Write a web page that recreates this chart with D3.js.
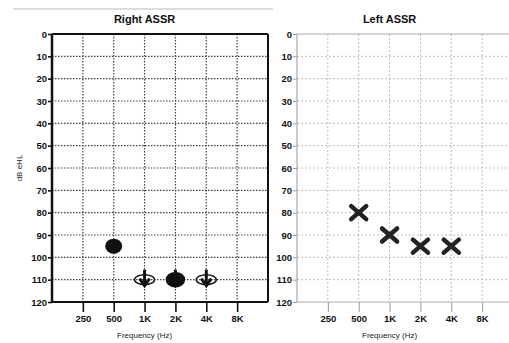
<!DOCTYPE html>
<html>
<head>
<meta charset="utf-8">
<script src="https://cdn.jsdelivr.net/npm/d3@7"></script>
<style>
  body { margin: 0; background: #fff; }
  svg { display: block; font-family: "Liberation Sans", Arial, sans-serif; }
</style>
</head>
<body>
<svg id="chart" width="509" height="343"></svg>
<script>
var freqs = [250, 500, 1000, 2000, 4000, 8000];
var freqLabels = ["250", "500", "1K", "2K", "4K", "8K"];
var dbTicks = [0, 10, 20, 30, 40, 50, 60, 70, 80, 90, 100, 110, 120];

// right ear: circle symbols, "nr" = no response (arrow down)
var rightFreqs = [500, 1000, 2000, 4000];
var rightDb = [95, 110, 110, 110];
var rightKind = ["filled", "nr", "nr-filled", "nr"];

// left ear: X symbols
var leftFreqs = [500, 1000, 2000, 4000];
var leftDb = [80, 90, 95, 95];

var svg = d3.select("#chart");

// faint rule across the top
svg.append("line").attr("x1", 13).attr("x2", 273).attr("y1", 9).attr("y2", 9)
  .attr("stroke", "#bbb").attr("stroke-width", 1);

function drawPanel(left, title, dark) {
  var x = d3.scaleLog().domain([125, 16000]).range([left, left + 216]);
  var y = d3.scaleLinear().domain([0, 120]).range([34, 302]);
  var g = svg.append("g");
  var axisCol = dark ? "#111" : "#999";

  // grid
  g.selectAll(".hg").data(dbTicks.slice(1, -1)).enter().append("line")
    .attr("x1", left).attr("x2", left + 216)
    .attr("y1", function(d) { return y(d); }).attr("y2", function(d) { return y(d); })
    .attr("stroke", dark ? "#444" : "#bbb").attr("stroke-width", dark ? 1.2 : 1)
    .attr("stroke-dasharray", dark ? "1.5,1.5" : "2,2");
  g.selectAll(".vg").data(freqs).enter().append("line")
    .attr("x1", function(d) { return x(d); }).attr("x2", function(d) { return x(d); })
    .attr("y1", 34).attr("y2", 302)
    .attr("stroke", dark ? "#444" : "#bbb").attr("stroke-width", dark ? 1.2 : 1)
    .attr("stroke-dasharray", dark ? "1.5,1.5" : "2,2");

  // axes
  var yAxis = d3.axisLeft(y).tickValues(dbTicks).tickSize(4).tickPadding(1);
  var ya = g.append("g").attr("transform", "translate(" + left + ",0)").call(yAxis);
  var xAxis = d3.axisBottom(x).tickValues(freqs).tickSize(10).tickPadding(3)
    .tickFormat(function(d, i) { return freqLabels[i]; });
  var xa = g.append("g").attr("transform", "translate(0,302)").call(xAxis);
  [ya, xa].forEach(function(a) {
    a.select(".domain").remove();
    a.selectAll("line").attr("stroke", axisCol).attr("stroke-width", dark ? 1.6 : 1);
    a.selectAll("text").attr("fill", "#111").style("font-size", "9.5px").style("font-weight", "bold");
  });

  // frame
  g.append("line").attr("x1", left).attr("x2", left).attr("y1", 34).attr("y2", 302)
    .attr("stroke", axisCol).attr("stroke-width", dark ? 2.5 : 1);
  g.append("line").attr("x1", left).attr("x2", left + 216).attr("y1", 34).attr("y2", 34)
    .attr("stroke", dark ? "#111" : "#aaa").attr("stroke-width", dark ? 2 : 1);
  g.append("line").attr("x1", left).attr("x2", left + 216).attr("y1", 302).attr("y2", 302)
    .attr("stroke", dark ? "#111" : "#aaa").attr("stroke-width", dark ? 2 : 1);
  if (dark) {
    g.append("line").attr("x1", left + 216).attr("x2", left + 216).attr("y1", 34).attr("y2", 302)
      .attr("stroke", "#111").attr("stroke-width", 2);
  }

  g.append("text").attr("x", x(1000)).attr("y", 23).attr("text-anchor", "middle")
    .style("font-size", "11px").style("font-weight", "bold").attr("fill", "#111").text(title);
  g.append("text").attr("x", x(1000)).attr("y", 338).attr("text-anchor", "middle")
    .style("font-size", "8px").attr("fill", "#222").text("Frequency (Hz)");
  return {x: x, y: y, g: g};
}

var R = drawPanel(52, "Right ASSR", true);
var L = drawPanel(297, "Left ASSR", false);

svg.append("text").attr("transform", "translate(22,168) rotate(-90)")
  .attr("text-anchor", "middle").style("font-size", "8px").attr("fill", "#222").text("dB eHL");

// right ear symbols
rightFreqs.forEach(function(f, i) {
  var cx = R.x(f), cy = R.y(rightDb[i]);
  var k = rightKind[i];
  var s = R.g.append("g").attr("transform", "translate(" + cx + "," + cy + ")");
  if (k === "filled") {
    s.append("ellipse").attr("rx", 8.5).attr("ry", 7.5).attr("fill", "#111");
  } else {
    var filled = k === "nr-filled";
    s.append("ellipse").attr("rx", filled ? 9 : 10).attr("ry", filled ? 7 : 5)
      .attr("fill", filled ? "#111" : "none")
      .attr("stroke", "#111").attr("stroke-width", 1.5);
    s.append("line").attr("x1", 0).attr("x2", 0).attr("y1", -10).attr("y2", 5)
      .attr("stroke", "#111").attr("stroke-width", 3);
    s.append("path").attr("d", "M-5,-1 L0,6 L5,-1").attr("fill", "none")
      .attr("stroke", "#111").attr("stroke-width", 3);
  }
});

// left ear symbols
leftFreqs.forEach(function(f, i) {
  var cx = L.x(f), cy = L.y(leftDb[i]);
  L.g.append("path")
    .attr("transform", "translate(" + cx + "," + cy + ")")
    .attr("d", "M-7.5,-6.5 L7.5,6.5 M-7.5,6.5 L7.5,-6.5")
    .attr("stroke", "#222").attr("stroke-width", 4.5).attr("stroke-linecap", "round");
});
</script>
</body>
</html>
